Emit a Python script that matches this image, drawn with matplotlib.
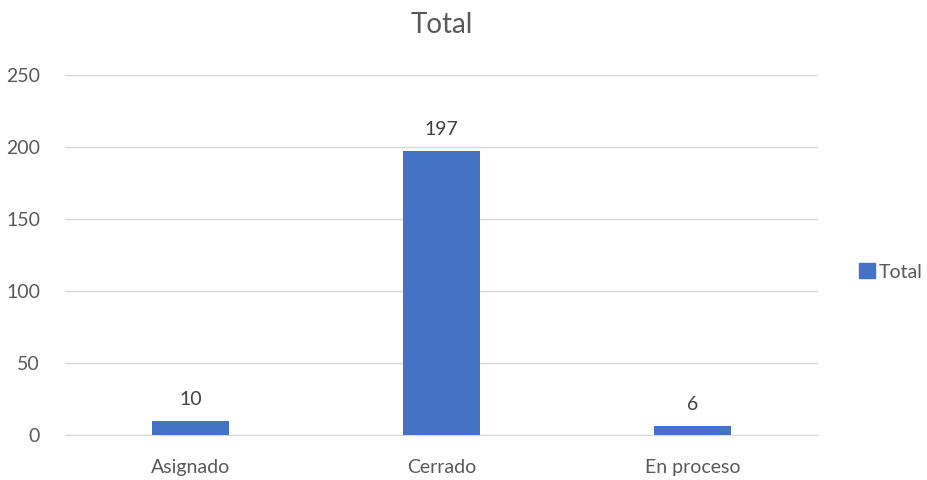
import matplotlib
matplotlib.use("Agg")
import matplotlib.pyplot as plt
from matplotlib.patches import Patch

categories = ["Asignado", "Cerrado", "En proceso"]
values = [10, 197, 6]
yticks = [0, 50, 100, 150, 200, 250]
series_name = "Total"

plt.rcParams['font.family'] = ['Lato', 'DejaVu Sans']
txt = '#595959'
blue = '#4472C4'

fig = plt.figure(figsize=(9.28, 4.8), dpi=100)
ax = fig.add_axes([65/928, 45/480, 753/928, 360/480])
x = range(len(categories))
ax.bar(x, values, width=0.31, color=blue, zorder=3)
for xi, v in zip(x, values):
    ax.text(xi, v + 9, str(v), ha='center', va='bottom', fontsize=14, color='#404040')
ax.set_xlim(-0.5, 2.5)
ax.set_ylim(0, 250)
ax.set_yticks(yticks)
ax.set_xticks(list(x))
ax.set_xticklabels(categories)
ax.tick_params(axis='both', length=0, labelsize=14, labelcolor=txt)
ax.tick_params(axis='y', pad=18)
ax.tick_params(axis='x', pad=17)
ax.grid(axis='y', color='#D9D9D9', linewidth=1, zorder=0)
for s in ['top', 'right', 'left']:
    ax.spines[s].set_visible(False)
ax.spines['bottom'].set_color('#D9D9D9')
ax.set_title("Total", fontsize=20, color=txt, pad=30)
fig.legend(handles=[Patch(color=blue, label=series_name)], loc='center left',
           bbox_to_anchor=(859/928, 1 - 272/480), frameon=False, fontsize=14,
           handlelength=0.8, handleheight=0.8, handletextpad=0.2, labelcolor=txt,
           borderpad=0, borderaxespad=0)
fig.savefig("out.png", dpi=100)
